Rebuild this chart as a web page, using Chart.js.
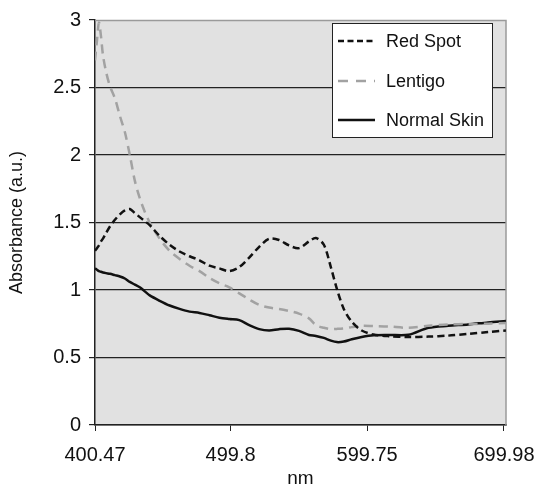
<!DOCTYPE html>
<html>
<head>
<meta charset="utf-8">
<script src="https://cdn.jsdelivr.net/npm/chart.js@4.4.1/dist/chart.umd.min.js"></script>
<style>
body{margin:0;background:#fff}
#wrap{width:548px;height:494px;position:relative}
</style>
</head>
<body>
<div id="wrap"><canvas id="absChart"></canvas></div>
<script>

/* =====================================================
DATA
===================================================== */

const wavelengths=[400.47,401.93,403.38,404.84,406.30,408.49,411.40,415.04,418.69,422.33,425.97,429.62,433.26,436.91,440.55,447.84,455.12,462.41,469.70,476.98,484.27,491.56,498.84,506.13,513.42,520.71,527.99,535.28,542.57,549.85,557.14,562.24,568.07,573.17,577.56,582.66,588.49,595.78,604.52,615.45,630.02,644.60,659.17,673.74,688.31,701.4]

const redSpot=[1.29,1.31,1.33,1.36,1.38,1.42,1.47,1.52,1.56,1.59,1.60,1.57,1.54,1.51,1.48,1.40,1.335,1.285,1.25,1.22,1.18,1.16,1.14,1.17,1.24,1.32,1.38,1.37,1.33,1.31,1.36,1.385,1.335,1.17,1.01,0.86,0.765,0.70,0.67,0.658,0.652,0.655,0.662,0.675,0.688,0.70]

const lentigo=[2.70,2.85,2.98,2.88,2.74,2.62,2.51,2.42,2.29,2.17,2.00,1.81,1.68,1.58,1.50,1.38,1.29,1.23,1.18,1.14,1.09,1.05,1.02,0.975,0.93,0.89,0.87,0.86,0.845,0.825,0.79,0.74,0.72,0.71,0.712,0.716,0.725,0.735,0.733,0.73,0.72,0.735,0.745,0.748,0.75,0.755]

const normalSkin=[1.16,1.15,1.14,1.135,1.13,1.125,1.12,1.11,1.10,1.085,1.06,1.04,1.02,0.99,0.96,0.92,0.885,0.86,0.84,0.83,0.813,0.795,0.785,0.777,0.74,0.71,0.70,0.71,0.713,0.697,0.667,0.66,0.645,0.625,0.614,0.618,0.635,0.652,0.665,0.667,0.668,0.72,0.735,0.745,0.76,0.77]

const xTickValues=[400.47,499.8,599.75,699.98]
const xMax=701.45
const yMin=0, yMax=3, yStep=0.5

const FONT="'Liberation Sans', Arial, sans-serif"


/* =====================================================
HELPERS
===================================================== */

function points(values){
return wavelengths.map((w,i)=>({x:w,y:values[i]}))
}


/* =====================================================
PLUGINS
===================================================== */

const plotBackground={
id:"plotBackground",
beforeDraw(chart){
const {ctx,chartArea:a}=chart
ctx.save()
ctx.fillStyle="#e1e1e1"
ctx.fillRect(a.left,a.top,a.right-a.left,a.bottom-a.top)
ctx.restore()
},
beforeDatasetsDraw(chart){
const {ctx,chartArea:a}=chart
ctx.save()
ctx.strokeStyle="#9a9a9a"
ctx.lineWidth=1.5
ctx.beginPath()
ctx.moveTo(a.left,a.top+0.5)
ctx.lineTo(a.right,a.top+0.5)
ctx.lineTo(a.right,a.bottom)
ctx.stroke()
ctx.restore()
}
}

const boxLegend={
id:"boxLegend",
afterDraw(chart){
const {ctx}=chart
const x=332, y=23, w=160, h=114
ctx.save()
ctx.fillStyle="#fff"
ctx.fillRect(x,y,w,h)
ctx.strokeStyle="#222"
ctx.lineWidth=1
ctx.strokeRect(x+0.5,y+0.5,w,h)
const rows=[41,81,120]
chart.data.datasets.forEach((ds,i)=>{
const ry=rows[i]
ctx.strokeStyle=ds.borderColor
ctx.lineWidth=ds.borderWidth
ctx.setLineDash(ds.legendDash||ds.borderDash||[])
ctx.beginPath()
ctx.moveTo(338,ry)
ctx.lineTo(375,ry)
ctx.stroke()
ctx.setLineDash([])
ctx.fillStyle="#111"
ctx.font="18px "+FONT
ctx.textBaseline="middle"
ctx.textAlign="left"
ctx.fillText(ds.label,386,ry+1)
})
ctx.restore()
}
}


/* =====================================================
CHART
===================================================== */

new Chart(document.getElementById("absChart"),{
type:"line",
data:{
datasets:[
{
label:"Red Spot",
data:points(redSpot),
borderColor:"#111",
borderWidth:2.5,
borderDash:[7,4],
legendDash:[6,3.5],
pointRadius:0,
tension:0.3
},
{
label:"Lentigo",
data:points(lentigo),
borderColor:"#a2a2a2",
borderWidth:2.5,
borderDash:[9,6],
legendDash:[10,8],
pointRadius:0,
tension:0.3
},
{
label:"Normal Skin",
data:points(normalSkin),
borderColor:"#111",
borderWidth:2.5,
pointRadius:0,
tension:0.3
}
]
},
options:{
responsive:true,
maintainAspectRatio:false,
animation:false,
layout:{padding:{top:13,right:42,left:0,bottom:0}},
plugins:{
legend:{display:false},
tooltip:{enabled:false}
},
scales:{
x:{
type:"linear",
min:xTickValues[0],
max:xMax,
afterBuildTicks(scale){
scale.ticks=xTickValues.map(v=>({value:v}))
},
afterFit(scale){scale.height=69},
ticks:{
color:"#111",
font:{family:FONT,size:20},
padding:12,
maxRotation:0,
autoSkip:false,
callback:v=>String(v)
},
grid:{
drawOnChartArea:false,
drawTicks:true,
tickLength:6,
tickColor:"#222"
},
border:{color:"#222",width:1.5},
title:{
display:true,
text:"nm",
color:"#111",
font:{family:FONT,size:19},
padding:{top:0,bottom:4}
}
},
y:{
min:yMin,
max:yMax,
afterFit(scale){scale.width=95},
ticks:{
stepSize:yStep,
color:"#111",
font:{family:FONT,size:20},
padding:8,
callback:v=>String(v)
},
grid:{
color:c=>c.tick&&c.tick.value===yMax?"rgba(0,0,0,0)":"#222",
lineWidth:1.2,
drawTicks:true,
tickLength:6,
tickColor:"#222"
},
border:{color:"#222",width:1.5},
title:{
display:true,
text:"Absorbance (a.u.)",
color:"#111",
font:{family:FONT,size:18},
padding:{top:6,bottom:0}
}
}
}
},
plugins:[plotBackground,boxLegend]
})

</script>
</body>
</html>
